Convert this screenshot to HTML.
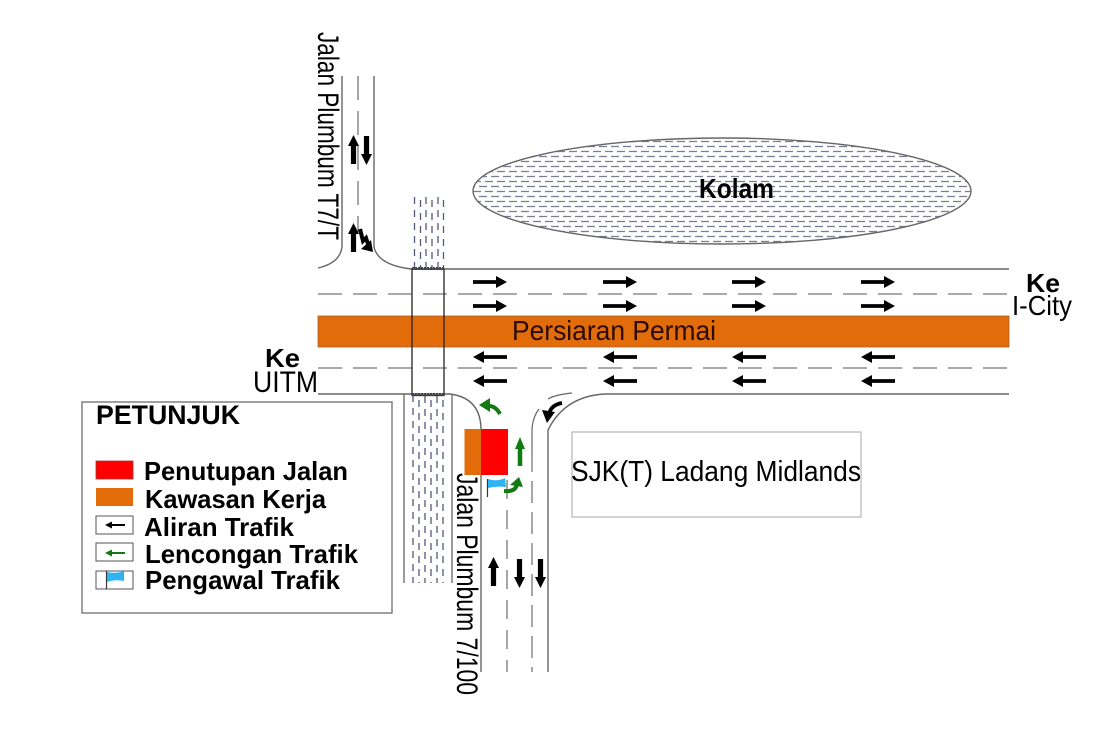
<!DOCTYPE html>
<html><head><meta charset="utf-8"><style>
html,body{margin:0;padding:0;background:#fff;width:1120px;height:750px;overflow:hidden}
svg{display:block}
text{font-family:"Liberation Sans",sans-serif;fill:#000}
.b{font-weight:bold}
</style></head><body>
<svg width="1120" height="750" viewBox="0 0 1120 750" xmlns="http://www.w3.org/2000/svg">
<defs>
<pattern id="w" width="12" height="10" patternUnits="userSpaceOnUse" x="473" y="139">
<rect width="12" height="10" fill="#fff"/>
<line x1="0" y1="2.500" x2="8" y2="2.500" stroke="#7c7e92" stroke-width="1.300"/>
<line x1="6" y1="7.500" x2="12" y2="7.500" stroke="#7c7e92" stroke-width="1.300"/>
<line x1="0" y1="7.500" x2="2" y2="7.500" stroke="#7c7e92" stroke-width="1.300"/>
</pattern>
<g id="ar"><path d="M0 -1.900H23V-6L34 0L23 6V1.900H0Z" fill="#000"/></g>
<g id="al"><path d="M34 -1.900H11V-6L0 0L11 6V1.900H34Z" fill="#000"/></g>
<g id="up"><path d="M-2.600 29V11H-5.500L0 0L5.500 11H2.600V29Z" fill="#000"/></g>
</defs>

<!-- pond -->
<ellipse cx="722" cy="191" rx="249" ry="53" fill="url(#w)" stroke="#666" stroke-width="1.400"/>
<text class="b" x="699" y="198" font-size="28" textLength="75" lengthAdjust="spacingAndGlyphs">Kolam</text>

<!-- drain -->
<g stroke="#55597a" stroke-width="1.300" stroke-dasharray="7 6" fill="none">
<path d="M414.500 197V268M420.500 200V268M426 197V268M432 200V268M438 197V268M443.500 200V268"/>
<path d="M413 395V583M419 400V583M425 396V583M431 400V583M437 396V583M443 400V583"/>
</g>
<path d="M404 394V583M452 394V583" stroke="#666" stroke-width="1.300" fill="none"/>

<!-- roads -->
<g fill="none" stroke="#666" stroke-width="1.400">
<path d="M342 76V247Q340 263 318 268"/>
<path d="M374 76V247Q378 265 411 269H1009"/>
<path d="M318 394H450Q481 398 481 430V672"/>
<path d="M1009 394H605Q565 396 548 430V672"/>
</g>
<g fill="none" stroke="#777" stroke-width="1.300" stroke-dasharray="24 11">
<path d="M358 76V232"/>
<path d="M318 294H1009"/>
<path d="M318 368H1009"/>
<path d="M507 480V672" stroke-dasharray="19 11"/>
<path d="M532 450V672" stroke-dasharray="22 9"/>
</g>
<path d="M572 393Q554 395 548 399M539 409Q532 418 532 432V450" fill="none" stroke="#666" stroke-width="1.200"/>

<!-- orange band -->
<rect x="318" y="316" width="691" height="31" fill="#e36c0a" stroke="#a0622a" stroke-width=".8"/>
<text x="512" y="340" font-size="28" textLength="204" lengthAdjust="spacingAndGlyphs" style="fill:#2a0c00">Persiaran Permai</text>

<!-- crossing box -->
<rect x="412" y="269" width="32" height="126.500" fill="none" stroke="#222" stroke-width="1.300"/>
<path d="M412 268.500H444M412 394.500H444" stroke="#444" stroke-width="3" stroke-dasharray="2 1" fill="none"/>

<!-- traffic arrows -->
<use href="#ar" x="473" y="282"/><use href="#ar" x="603" y="282"/><use href="#ar" x="732" y="282"/><use href="#ar" x="861" y="282"/>
<use href="#ar" x="473" y="306"/><use href="#ar" x="603" y="306"/><use href="#ar" x="732" y="306"/><use href="#ar" x="861" y="306"/>
<use href="#al" x="473" y="357"/><use href="#al" x="603" y="357"/><use href="#al" x="732" y="357"/><use href="#al" x="861" y="357"/>
<use href="#al" x="473" y="381"/><use href="#al" x="603" y="381"/><use href="#al" x="732" y="381"/><use href="#al" x="861" y="381"/>

<use href="#up" x="353.500" y="135"/>
<use href="#up" transform="translate(366.500 165) rotate(180)"/>
<use href="#up" x="353.500" y="223"/>
<path d="M360 229L363 241L366 238L369 247" fill="none" stroke="#000" stroke-width="4"/>
<path d="M373 252L361 249L371 240Z" fill="#000"/>

<use href="#up" x="493.500" y="557"/>
<use href="#up" transform="translate(519.500 588) rotate(180)"/>
<use href="#up" transform="translate(540.500 588) rotate(180)"/>

<!-- curved black arrow -->
<path d="M562 403Q551 405 549 414" fill="none" stroke="#000" stroke-width="3.800"/>
<path d="M542 410L555 412L547 423Z" fill="#000"/>

<!-- work zone -->
<rect x="464.500" y="429" width="17" height="46" fill="#e36c0a"/>
<rect x="481" y="429" width="27" height="46" fill="#fe0000"/>

<!-- green arrows -->
<path d="M520 466V447" stroke="#127a12" stroke-width="4.500" fill="none"/>
<path d="M515 449L520 437L525 449Z" fill="#127a12"/>
<path d="M500 414Q495 405 487 406" fill="none" stroke="#127a12" stroke-width="4"/>
<path d="M479 405L490 398L490 412Z" fill="#127a12"/>
<path d="M504 491Q516 492 517 484" fill="none" stroke="#127a12" stroke-width="4"/>
<path d="M510 485L523 487L519 477Z" fill="#127a12"/>

<!-- flag -->
<line x1="487.500" y1="479" x2="487.500" y2="497" stroke="#333" stroke-width="1.200"/>
<path d="M488 479Q497 482 505 478L506 487Q496 486 488 488Z" fill="#2fb4f2"/>

<!-- school -->
<rect x="572" y="432" width="289" height="85" fill="none" stroke="#bbb" stroke-width="1.300"/>
<text x="571" y="481" font-size="29" textLength="290" lengthAdjust="spacingAndGlyphs">SJK(T) Ladang Midlands</text>

<!-- rotated labels -->
<text transform="translate(318 32) rotate(90)" font-size="30" textLength="208" lengthAdjust="spacingAndGlyphs">Jalan Plumbum T7/T</text>
<text transform="translate(457 473) rotate(90)" font-size="30" textLength="222" lengthAdjust="spacingAndGlyphs">Jalan Plumbum 7/100</text>

<!-- destinations -->
<text class="b" x="1026" y="292" font-size="26" textLength="34" lengthAdjust="spacingAndGlyphs">Ke</text>
<text x="1012" y="315" font-size="28" textLength="60" lengthAdjust="spacingAndGlyphs">I-City</text>
<text class="b" x="265" y="367" font-size="26" textLength="35" lengthAdjust="spacingAndGlyphs">Ke</text>
<text x="253" y="392" font-size="30" textLength="65" lengthAdjust="spacingAndGlyphs">UITM</text>

<!-- legend -->
<rect x="82" y="402" width="310" height="211" fill="#fff" stroke="#777" stroke-width="1.400"/>
<text class="b" x="96" y="424" font-size="27" textLength="144" lengthAdjust="spacingAndGlyphs">PETUNJUK</text>
<rect x="96" y="461" width="37" height="18" fill="#fe0000" stroke="#a33" stroke-width=".8"/>
<rect x="96" y="488" width="37" height="18" fill="#e36c0a"/>
<rect x="96" y="516" width="37" height="18" fill="#fff" stroke="#555" stroke-width="1"/>
<rect x="96" y="543" width="37" height="18" fill="#fff" stroke="#555" stroke-width="1"/>
<rect x="96" y="571" width="37" height="18" fill="#fff" stroke="#555" stroke-width="1"/>
<path d="M125 525H110" stroke="#000" stroke-width="2"/><path d="M105 525L112 521.500V528.500Z" fill="#000"/>
<path d="M125 553H110" stroke="#127a12" stroke-width="2"/><path d="M105 553L112 549.500V556.500Z" fill="#127a12"/>
<line x1="106.500" y1="571" x2="106.500" y2="589" stroke="#333" stroke-width="1.200"/>
<path d="M107 572Q116 574 124 571V581Q115 579 107 582Z" fill="#2fb4f2"/>
<text class="b" x="144" y="480" font-size="26" textLength="204" lengthAdjust="spacingAndGlyphs">Penutupan Jalan</text>
<text class="b" x="145" y="508" font-size="26" textLength="181" lengthAdjust="spacingAndGlyphs">Kawasan Kerja</text>
<text class="b" x="144" y="536" font-size="26" textLength="150" lengthAdjust="spacingAndGlyphs">Aliran Trafik</text>
<text class="b" x="145" y="563" font-size="26" textLength="213" lengthAdjust="spacingAndGlyphs">Lencongan Trafik</text>
<text class="b" x="145" y="589" font-size="26" textLength="195" lengthAdjust="spacingAndGlyphs">Pengawal Trafik</text>
</svg>
</body></html>
